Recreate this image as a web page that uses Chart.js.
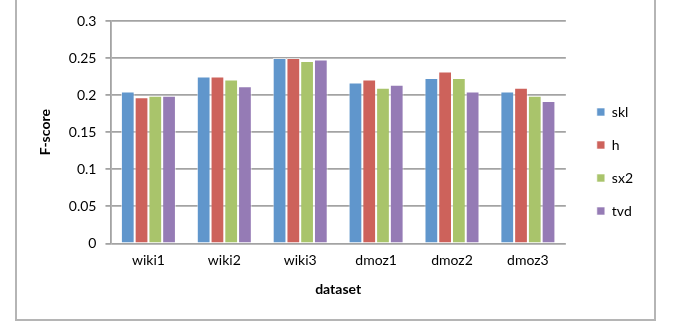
<!DOCTYPE html>
<html lang="en">
<head>
    <meta charset="UTF-8">
    <title>F-score by dataset</title>
    <script src="https://cdn.jsdelivr.net/npm/chart.js"></script>
    <style>
        body { margin: 0; background: #fff; }
        #frame {
            position: absolute;
            left: 15px;
            top: 0px;
            width: 637px;
            height: 319px;
            border: 2px solid #b5b5b5;
            border-top: none;
        }
    </style>
</head>
<body>
    <div id="frame">
        <canvas id="myChart" width="637" height="319"></canvas>
    </div>
    <script>
        // Data
        const datasetNames = ['wiki1', 'wiki2', 'wiki3', 'dmoz1', 'dmoz2', 'dmoz3'];
        const sklValues = [0.205, 0.225, 0.250, 0.217, 0.223, 0.205];
        const hValues   = [0.197, 0.225, 0.250, 0.221, 0.232, 0.210];
        const sx2Values = [0.199, 0.221, 0.246, 0.210, 0.223, 0.199];
        const tvdValues = [0.199, 0.212, 0.248, 0.214, 0.205, 0.192];

        const fontFamily = 'Lato, "Open Sans", sans-serif';
        const gridColor = '#a3a3a3';

        // push the legend a bit further from the plot, like Excel places it
        const legendNudge = {
            id: 'legendNudge',
            afterLayout(chart) {
                const lg = chart.legend;
                lg.left += 12; lg.right += 12;
            }
        };

        const ctx = document.getElementById('myChart').getContext('2d');
        const myChart = new Chart(ctx, {
            type: 'bar',
            data: {
                labels: datasetNames,
                datasets: [
                    { label: 'skl', data: sklValues, backgroundColor: '#6096cc' },
                    { label: 'h', data: hValues, backgroundColor: '#cd625b' },
                    { label: 'sx2', data: sx2Values, backgroundColor: '#a9c46b' },
                    { label: 'tvd', data: tvdValues, backgroundColor: '#957bb5' }
                ]
            },
            plugins: [legendNudge],
            options: {
                responsive: false,
                animation: false,
                layout: { padding: { left: 15, right: 23, top: 21, bottom: 17 } },
                datasets: {
                    bar: {
                        categoryPercentage: 0.725,
                        barPercentage: 1,
                        borderWidth: 1,
                        borderColor: 'rgba(255,255,255,0.6)'
                    }
                },
                plugins: {
                    legend: {
                        position: 'right',
                        labels: {
                            boxWidth: 8,
                            boxHeight: 8,
                            padding: 19,
                            color: '#000',
                            font: { family: fontFamily, size: 14 }
                        }
                    },
                    tooltip: { enabled: false }
                },
                scales: {
                    x: {
                        grid: { display: false },
                        border: { display: false },
                        ticks: {
                            color: '#000',
                            padding: 1,
                            font: { family: fontFamily, size: 14 }
                        },
                        title: {
                            display: true,
                            text: 'dataset',
                            color: '#000',
                            padding: { top: 11 },
                            font: { family: fontFamily, size: 14, weight: 'bold' }
                        }
                    },
                    y: {
                        min: 0,
                        max: 0.3,
                        ticks: {
                            stepSize: 0.05,
                            color: '#000',
                            padding: 9,
                            font: { family: fontFamily, size: 14 },
                            callback: value => String(Math.round(value * 100) / 100)
                        },
                        grid: {
                            color: gridColor,
                            lineWidth: 1.8,
                            tickLength: 5
                        },
                        border: { color: gridColor, width: 1.8 },
                        title: {
                            display: true,
                            text: 'F-score',
                            color: '#000',
                            padding: 5.5,
                            font: { family: fontFamily, size: 14, weight: 'bold' }
                        }
                    }
                }
            }
        });
    </script>
</body>
</html>
